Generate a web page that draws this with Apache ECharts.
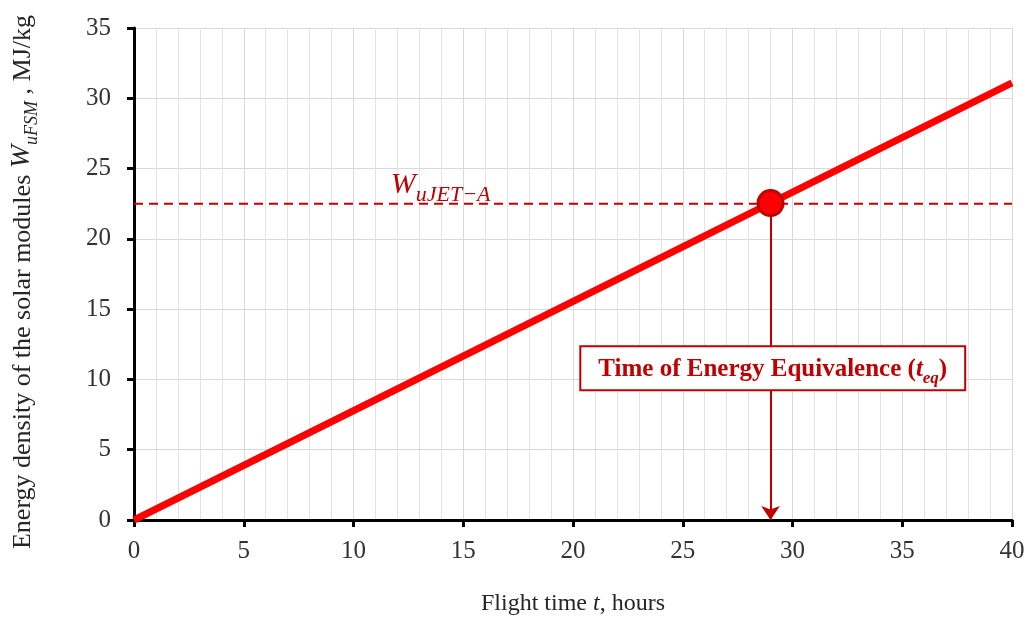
<!DOCTYPE html>
<html>
<head>
<meta charset="utf-8">
<script src="https://cdn.jsdelivr.net/npm/echarts@6/dist/echarts.min.js"></script>
<style>html,body{margin:0;padding:0;background:#fff}#c{width:1028px;height:621px}</style>
</head>
<body>
<div id="c"></div>
<script>
// Data
const energyLine = [[0, 0], [40, 31.1]];          // W_uFSM vs flight time
const jetALevel = 22.5;                           // W_uJET-A
const tEq = 29.0;                                 // time of energy equivalence
const xTicks = [0, 5, 10, 15, 20, 25, 30, 35, 40];
const yTicks = [0, 5, 10, 15, 20, 25, 30, 35];
const jetLabelPos = [11.7, 24.0];
const boxLabelPos = [29.1, 10.8];

const SERIF = '"Liberation Serif", "DejaVu Serif", serif';
const DARKRED = '#c00000';
const INK = '#262626';

const chart = echarts.init(document.getElementById('c'));
chart.setOption({
  animation: false,
  grid: { left: 134, right: 16, top: 28, bottom: 101, containLabel: false, outerBoundsMode: 'none' },
  xAxis: {
    type: 'value', min: 0, max: 40, interval: 5,
    name: '{a|Flight time }{i|t}{a|, hours}',
    nameLocation: 'middle', nameGap: 72,
    nameTextStyle: { rich: {
      a: { fontFamily: SERIF, fontSize: 24, color: INK },
      i: { fontFamily: SERIF, fontSize: 24, color: INK, fontStyle: 'italic' }
    }},
    axisLine: { show: true, onZero: false, lineStyle: { color: '#000', width: 3 } },
    axisTick: { show: true, length: 7, lineStyle: { color: '#000', width: 3 } },
    axisLabel: { fontFamily: SERIF, fontSize: 25, color: '#333', margin: 19 },
    splitLine: { show: true, lineStyle: { color: '#d9d9d9', width: 1 } },
    minorTick: { show: false, splitNumber: 5 },
    minorSplitLine: { show: true, lineStyle: { color: '#e3e3e3', width: 1 } }
  },
  yAxis: {
    type: 'value', min: 0, max: 35, interval: 5,
    name: '{a|Energy density of the solar modules }{w|W}{s|uFSM}{a| , MJ/kg}',
    nameLocation: 'middle', nameGap: 98, nameRotate: 90,
    nameTextStyle: { padding: [0, 16, 0, 0], rich: {
      a: { fontFamily: SERIF, fontSize: 26, color: INK, lineHeight: 34, verticalAlign: 'bottom' },
      w: { fontFamily: SERIF, fontSize: 28, color: INK, fontStyle: 'italic', lineHeight: 34, verticalAlign: 'bottom' },
      s: { fontFamily: SERIF, fontSize: 18, color: INK, fontStyle: 'italic', lineHeight: 34, verticalAlign: 'bottom', padding: [0, 0, -5, 0] }
    }},
    axisLine: { show: true, lineStyle: { color: '#000', width: 3 } },
    axisTick: { show: true, length: 7, lineStyle: { color: '#000', width: 3 } },
    axisLabel: { fontFamily: SERIF, fontSize: 25, color: '#333', margin: 23 },
    splitLine: { show: true, lineStyle: { color: '#d9d9d9', width: 1 } }
  },
  series: [
    {
      type: 'line', data: [[0, jetALevel], [40, jetALevel]], symbol: 'none', z: 3,
      lineStyle: { color: DARKRED, width: 2, type: [9, 6] },
      markLine: {
        silent: true, symbol: ['none', 'arrow'], symbolSize: [14, 14],
        label: { show: false },
        lineStyle: { color: DARKRED, width: 2, type: 'solid' },
        data: [[{ coord: [tEq, jetALevel] }, { coord: [tEq, 0] }]]
      }
    },
    {
      type: 'line', data: energyLine, symbol: 'none', z: 4,
      lineStyle: { color: '#ff0000', width: 7, cap: 'butt' }
    },
    {
      type: 'scatter', z: 6,
      data: [[tEq, energyLine[0][1] + (energyLine[1][1] - energyLine[0][1]) * tEq / 40]],
      symbolSize: 25,
      itemStyle: { color: '#ff0000', borderColor: DARKRED, borderWidth: 3, opacity: 1 }
    },
    {
      type: 'scatter', z: 7, symbolSize: 0,
      data: [jetLabelPos],
      itemStyle: { opacity: 1 },
      label: {
        show: true, position: 'right', distance: 0,
        formatter: '{w|W}{s|uJET−A}',
        rich: {
          w: { fontFamily: SERIF, fontSize: 30, fontStyle: 'italic', color: DARKRED, lineHeight: 34, verticalAlign: 'bottom' },
          s: { fontFamily: SERIF, fontSize: 22, fontStyle: 'italic', color: DARKRED, lineHeight: 34, verticalAlign: 'bottom', padding: [0, 0, -7, 0] }
        }
      }
    },
    {
      type: 'scatter', z: 8, symbolSize: 0,
      data: [boxLabelPos],
      itemStyle: { opacity: 1 },
      label: {
        show: true, position: 'inside',
        formatter: '{b|Time of Energy Equivalence (}{t|t}{e|eq}{b|)}',
        backgroundColor: '#fff', borderColor: DARKRED, borderWidth: 2,
        padding: [7, 17, 7, 17],
        rich: {
          b: { fontFamily: SERIF, fontSize: 25, fontWeight: 'bold', color: DARKRED, lineHeight: 28, verticalAlign: 'bottom' },
          t: { fontFamily: SERIF, fontSize: 25, fontWeight: 'bold', fontStyle: 'italic', color: DARKRED, lineHeight: 28, verticalAlign: 'bottom' },
          e: { fontFamily: SERIF, fontSize: 17, fontWeight: 'bold', fontStyle: 'italic', color: DARKRED, lineHeight: 28, verticalAlign: 'bottom', padding: [0, 0, -5, 0] }
        }
      }
    }
  ]
});
</script>
</body>
</html>
